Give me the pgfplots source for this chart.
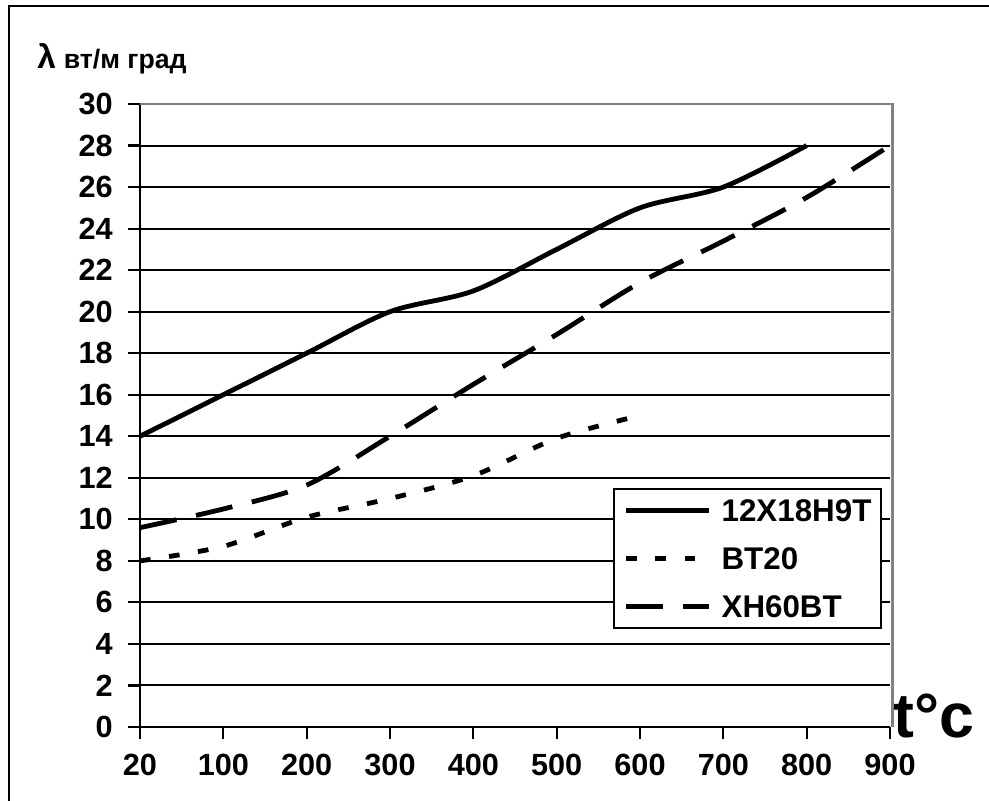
\documentclass[border=0pt]{standalone}
\usepackage{fontspec}
\setmainfont{Liberation Sans}
\usepackage{pgfplots}
\pgfplotsset{compat=1.18}
\begin{document}
\begin{tikzpicture}
\begin{scope}[x=0.75pt,y=-0.75pt]
\useasboundingbox (0,0) rectangle (989,800);
\fill[white] (0,0) rectangle (989,800);
\draw[line width=1.6pt] (9,6) rectangle (1000,820);
\node[anchor=base west, inner sep=0pt] at (37,68) {\bfseries{\fontsize{25}{25}\selectfont λ}\hspace{6pt}{\fontsize{20}{20}\selectfont вт/м град}};
\node[anchor=base west, inner sep=0pt] at (893,737) {\bfseries\fontsize{47}{47}\selectfont t°c};
\end{scope}
\begin{axis}[
  at={(105pt,-545.25pt)}, anchor=south west,
  scale only axis, width=562.5pt, height=467.25pt,
  xmin=0, xmax=9, ymin=0, ymax=30,
  axis x line*=bottom, axis y line*=left,
  axis line style={-, line width=1.8pt, black},
  xtick={0,1,2,3,4,5,6,7,8,9},
  xticklabels={20,100,200,300,400,500,600,700,800,900},
  ytick={0,2,4,6,8,10,12,14,16,18,20,22,24,26,28,30},
  tick align=outside, major tick length=9pt,
  tick style={line width=1.6pt, black},
  ymajorgrids, grid style={line width=1.5pt, black},
  ticklabel style={font=\fontsize{23}{23}\selectfont\bfseries},
  xticklabel style={yshift=-8pt},
  yticklabel style={xshift=-8pt},
  /pgf/number format/assume math mode=true,
  clip=false,
  legend style={at={(rel axis cs:0.989,0.3836)}, anchor=north east,
    draw=black, line width=1.5pt, fill=white,
    font=\fontsize{23.5}{23.5}\selectfont\bfseries,
    inner xsep=7pt, inner ysep=8pt, row sep=19.5pt,
    nodes={inner sep=0pt, text height=16.5pt, text depth=0pt},
    /tikz/every odd column/.append style={column sep=8pt}},
  legend cell align=left,
  legend image code/.code={\draw[#1] (0pt,0pt) -- (62pt,0pt);},
]
\draw[gray, line width=2.2pt] (rel axis cs:0,1) -- (rel axis cs:1.003,1) -- (rel axis cs:1.003,0);
\addplot[black, line width=3.6pt, smooth, tension=0.5] coordinates {
 (0,14) (1,16) (2,18) (3,20) (4,21) (5,23) (6,25) (7,26) (8,28)};
\addlegendentry{12X18H9T}
\addplot[black, line width=3.6pt, smooth, tension=0.5, dash pattern=on 8pt off 14pt] coordinates {
 (0,8) (1,8.7) (2,10.1) (3,11) (4,12.1) (5,13.9) (6,15)};
\addlegendentry{BT20}
\addplot[black, line width=3.6pt, smooth, tension=0.5, dash pattern=on 28pt off 15pt] coordinates {
 (0,9.6) (1,10.5) (2,11.65) (3,14) (4,16.5) (5,18.9) (6,21.4) (7,23.4) (8,25.5) (9,28)};
\addlegendentry{XH60BT}
\end{axis}
\end{tikzpicture}
\end{document}
